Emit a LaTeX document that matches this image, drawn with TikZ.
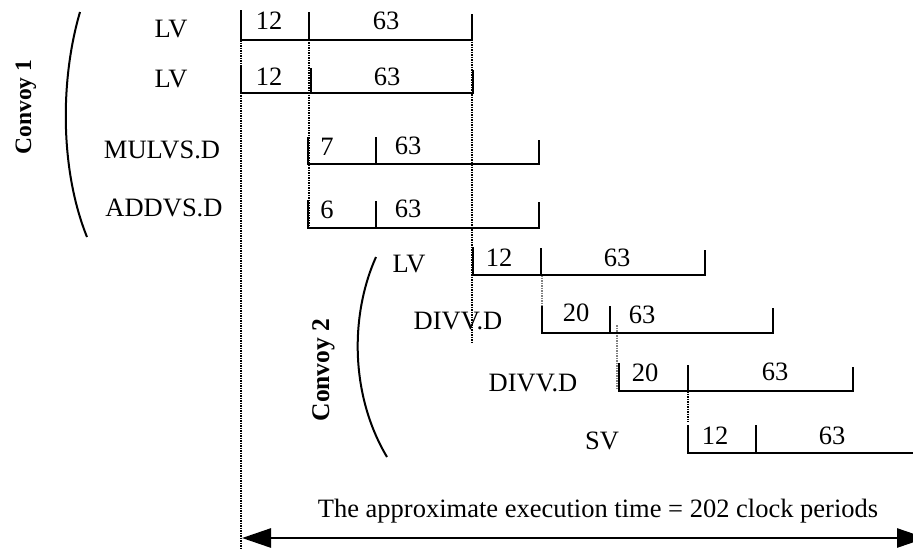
\documentclass[tikz,border=0pt]{standalone}
\usepackage{fontspec}
\setmainfont{Liberation Serif}
\usetikzlibrary{arrows.meta}
\begin{document}
\begin{tikzpicture}[x=1pt,y=-1pt,
  bar/.style={line width=2pt},
  divider/.style={line width=2.8pt},
  guide/.style={line width=1.2pt, dash pattern=on 1.5pt off 1pt},
  faintguide/.style={guide, draw=gray},
  brace/.style={line width=2pt},
  lbl/.style={inner sep=0pt, font=\fontsize{26.5}{30}\selectfont, text height=17.6pt, text depth=0pt},
  convoy/.style={inner sep=0pt, text height=16pt, text depth=0pt, rotate=90},
  span/.style={line width=2.7pt, {Triangle[length=29pt,width=19pt]}-{Triangle[length=29pt,width=19pt]}}
]
\useasboundingbox (0,0) rectangle (913,550);
\clip (0,0) rectangle (913,550);

% dotted alignment guides
\draw[guide] (241,10) -- (241,550);
\draw[guide] (309,12) -- (309,228);
\draw[guide] (472,14) -- (472,343);
\draw[faintguide] (542,275) -- (542,328);
\draw[faintguide] (617,325) -- (617,388);
\draw[guide] (688,391) -- (688,422);

% convoy 1: LV
\draw[bar] (241,11) |- (472,40) -- (472,14);
\draw[divider] (309,12) -- (309,40);
% convoy 1: LV
\draw[bar] (241,66) |- (473,93) -- (473,70);
\draw[divider] (311,68) -- (311,93);
% convoy 1: MULVS.D
\draw[bar] (308,137) |- (539,164) -- (539,140);
\draw[divider] (376,137) -- (376,164);
% convoy 1: ADDVS.D
\draw[bar] (308,200) |- (539,228) -- (539,202);
\draw[divider] (376,201) -- (376,228);
% convoy 2: LV
\draw[bar] (473,247) |- (705,275) -- (705,250);
\draw[divider] (541,248) -- (541,275);
% convoy 2: DIVV.D
\draw[bar] (542,306) |- (773,333) -- (773,308);
\draw[divider] (610,306) -- (610,333);
% convoy 2: DIVV.D
\draw[bar] (619,363) |- (853,391) -- (853,367);
\draw[divider] (688,365) -- (688,391);
% convoy 2: SV
\draw[bar] (688,425) |- (919,453) -- (919,427);
\draw[divider] (756,425) -- (756,453);

% segment lengths
\node[lbl] (a12) at (269,21) {12};  \node[lbl] (a63) at (386,21) {63};
\node[lbl] (b12) at (269,77) {12};  \node[lbl] (b63) at (387,77) {63};
\node[lbl] (c7)  at (327,147) {7};  \node[lbl] (c63) at (408,146) {63};
\node[lbl] (d6)  at (327,210) {6};  \node[lbl] (d63) at (408,209) {63};
\node[lbl] (e12) at (499,258) {12}; \node[lbl] (e63) at (617,258) {63};
\node[lbl] (f20) at (576,313) {20}; \node[lbl] (f63) at (642,315) {63};
\node[lbl] (g20) at (645,373) {20}; \node[lbl] (g63) at (775,372) {63};
\node[lbl] (h12) at (715,436) {12}; \node[lbl] (h63) at (832,436) {63};

% instruction names
\node[lbl] (lv1)  at (171,29)  {LV};
\node[lbl] (lv2)  at (171,79)  {LV};
\node[lbl] (mul)  at (162,150) {MULVS.D};
\node[lbl] (add)  at (164,208) {ADDVS.D};
\node[lbl] (lv3)  at (409,264) {LV};
\node[lbl] (div1) at (458,321) {DIVV.D};
\node[lbl] (div2) at (533,383) {DIVV.D};
\node[lbl] (sv)   at (602,441) {SV};

% convoy brackets and titles
\draw[brace] (80,12) .. controls (60,80) and (60,170) .. (87,237);
\draw[brace] (376,257) .. controls (350,315) and (350,395) .. (387,457);
\node[convoy, font=\fontsize{23.5}{28}\selectfont\bfseries] (conv1) at (23,107) {Convoy 1};
\node[convoy, font=\fontsize{25.5}{30}\selectfont\bfseries] (conv2) at (321,370) {Convoy 2};

% total execution time
\coordinate (tstart) at (242,538);
\coordinate (tend) at (926,538);
\draw[span] (tstart) -- (tend);
\node[lbl] (total) at (598,509) {The approximate execution time = 202 clock periods};
\end{tikzpicture}
\end{document}
